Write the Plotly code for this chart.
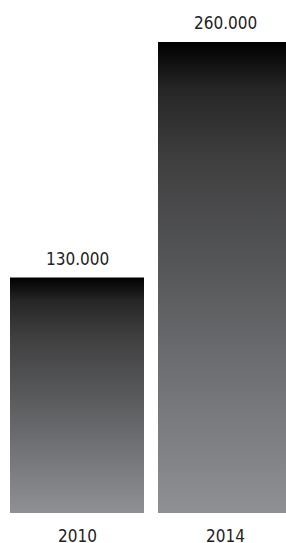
import plotly.graph_objects as go

categories = ["2010", "2014"]
values = [130000, 260000]

FONT = "DejaVu Sans Condensed"
BAR_HALF = 0.4527
gradient = [
    [0.0, "#8f9093"],
    [0.25, "#747578"],
    [0.5, "#58595b"],
    [0.75, "#3f3f40"],
    [0.9, "#262626"],
    [1.0, "#000000"],
]

fig = go.Figure()
for i, (cat, v) in enumerate(zip(categories, values)):
    fig.add_trace(go.Scatter(
        x=[i - BAR_HALF, i + BAR_HALF, i + BAR_HALF, i - BAR_HALF, i - BAR_HALF],
        y=[0, 0, v, v, 0],
        mode="lines",
        line=dict(width=0),
        fill="toself",
        fillgradient=dict(type="vertical", colorscale=gradient),
        hoverinfo="skip",
        showlegend=False,
    ))
    fig.add_annotation(x=i, y=v, text=f"{v:,}".replace(",", "."),
                       showarrow=False, yanchor="bottom", yshift=7,
                       font=dict(family=FONT, size=17, color="#222222"))
    fig.add_annotation(x=i, y=0, yref="y", text=cat,
                       showarrow=False, yanchor="top", yshift=-11,
                       font=dict(family=FONT, size=17, color="#222222"))

fig.update_layout(
    width=286, height=543,
    margin=dict(l=0, r=0, t=0, b=30),
    paper_bgcolor="white", plot_bgcolor="white",
    xaxis=dict(range=[-0.5203, 1.4122], visible=False, fixedrange=True),
    yaxis=dict(range=[0, 283200], visible=False, fixedrange=True),
    showlegend=False,
)
fig.write_html(
    "out.html",
    config={"displayModeBar": False},
    post_script="document.body.style.margin='0';document.body.style.overflow='hidden';",
)
